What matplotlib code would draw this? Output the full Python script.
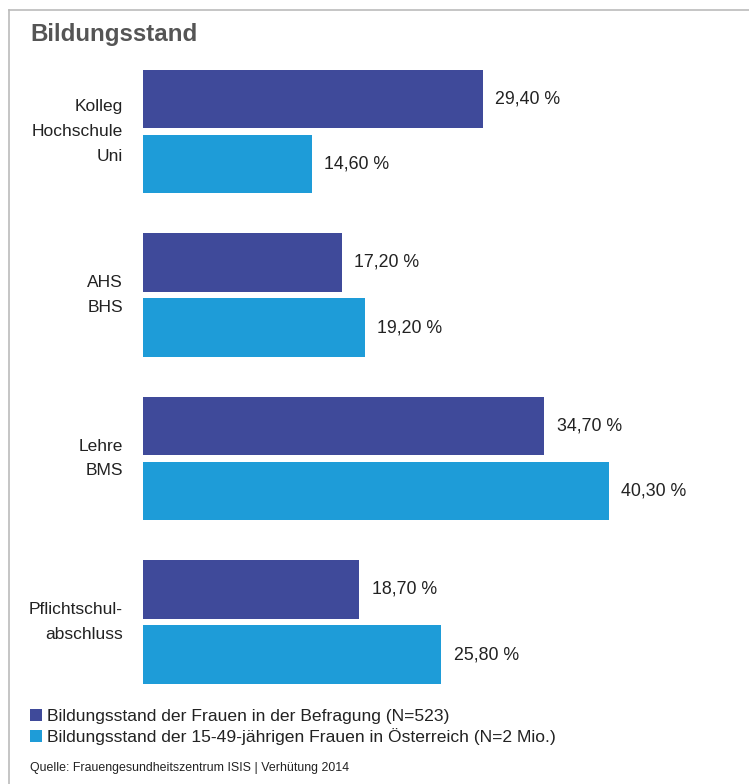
import matplotlib.pyplot as plt
from matplotlib.lines import Line2D

plt.rcParams['font.family'] = ['Liberation Sans', 'DejaVu Sans']

# data
categories = ['Kolleg\nHochschule\nUni', 'AHS\nBHS', 'Lehre\nBMS', 'Pflichtschul-\nabschluss']
befragung = [29.4, 17.2, 34.7, 18.7]
oesterreich = [14.6, 19.2, 40.3, 25.8]
series_labels = ['Bildungsstand der Frauen in der Befragung (N=523)',
                 'Bildungsstand der 15-49-jährigen Frauen in Österreich (N=2 Mio.)']
title = 'Bildungsstand'
source = 'Quelle: Frauengesundheitszentrum ISIS | Verhütung 2014'

dark = '#3f4a9a'
light = '#1e9cd8'
text_col = '#222222'

W, H = 749, 784
fig = plt.figure(figsize=(W / 100, H / 100), dpi=100)

# axes placed in pixel terms: bars start at x=143, top 60, bottom 695
ax_left, ax_right, ax_top, ax_bot = 143, 743, 60, 695
ax = fig.add_axes([ax_left / W, 1 - ax_bot / H, (ax_right - ax_left) / W, (ax_bot - ax_top) / H])

px_per_pct = 11.56
ax.set_xlim(0, (ax_right - ax_left) / px_per_pct)
group_px = 163.5
ax.set_ylim(3 + (ax_bot - 622) / group_px, -(131.5 - ax_top) / group_px)

off = 0.199
h = 0.358
ys = list(range(len(categories)))
b1 = ax.barh([y - off for y in ys], befragung, height=h, color=dark, label=series_labels[0])
b2 = ax.barh([y + off for y in ys], oesterreich, height=h, color=light, label=series_labels[1])

def fmt(v):
    return f'{v:.2f}'.replace('.', ',') + ' %'

for bars, vals in ((b1, befragung), (b2, oesterreich)):
    for rect, v in zip(bars, vals):
        ax.annotate(fmt(v), (rect.get_width(), rect.get_y() + rect.get_height() / 2),
                    xytext=(9, 0), textcoords='offset points', ha='left', va='center',
                    fontsize=12.8, color=text_col)

for y, cat in zip(ys, categories):
    ax.annotate(cat, (0, y), xytext=(-14.4, 0), textcoords='offset points',
                ha='right', va='center', multialignment='right',
                fontsize=12.5, color=text_col, linespacing=1.8, annotation_clip=False)

ax.axis('off')

fig.text(30 / W, 1 - 35 / H, title, fontsize=17.4, fontweight='bold', color='#555555',
         ha='left', va='center')

fig.legend(handles=[b1, b2], loc='upper left', bbox_to_anchor=(30 / W, 1 - 709 / H),
           frameon=False, fontsize=12.6, handlelength=0.67, handleheight=0.67,
           handletextpad=0.3, labelspacing=0.25, borderpad=0, borderaxespad=0,
           labelcolor=text_col)

fig.text(30 / W, 1 - 768 / H, source, fontsize=8.9, color=text_col, ha='left', va='center')

# frame: thin gray lines at left and top
fig.add_artist(Line2D([9 / W, 9 / W], [0, 1 - 10 / H], color='#bbbbbb', lw=1.2))
fig.add_artist(Line2D([9 / W, 1], [1 - 10 / H, 1 - 10 / H], color='#bbbbbb', lw=1.2))

fig.savefig('out.png', dpi=100)
